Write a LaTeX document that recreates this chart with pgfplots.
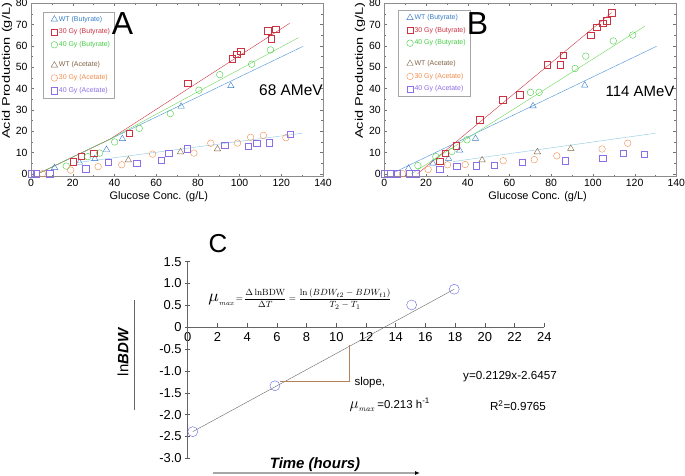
\documentclass[border=0pt]{standalone}
\usepackage[no-math]{fontspec}
\setmainfont{Liberation Sans}
\usepackage{pgfplots}
\pgfplotsset{compat=1.18}
\usetikzlibrary{arrows.meta}
\usepackage{amsmath}
\usepackage{graphicx}

\definecolor{wtb}{RGB}{55,125,200}
\definecolor{wtbl}{RGB}{75,145,215}
\definecolor{rd}{RGB}{205,50,65}
\definecolor{gr}{RGB}{70,205,70}
\definecolor{grl}{RGB}{110,215,90}
\definecolor{br}{RGB}{130,100,70}
\definecolor{org}{RGB}{240,140,75}
\definecolor{pur}{RGB}{140,110,230}
\definecolor{acl}{RGB}{140,200,225}
\definecolor{cblue}{RGB}{100,100,230}
\definecolor{slp}{RGB}{180,130,90}

\pgfplotsset{
  panel/.style={
    scale only axis, width=292bp, height=173.4bp,
    xmin=0, xmax=140, ymin=-1.4, ymax=80,
    xtick={0,20,...,140}, ytick={0,10,...,80},
    minor x tick num=1, minor y tick num=1,
    tick align=inside,
    axis line style={black!45},
    tick style={black!55},
    major tick length=3bp, minor tick length=2bp,
    ticklabel style={font=\fontsize{10.5}{12}\selectfont},
    xticklabel style={yshift=1bp},
    /pgf/number format/assume math mode=true,
    clip=false,
    legend cell align=left,
    legend style={anchor=north west, draw=black!35, fill=white,
      font=\fontsize{7}{8}\selectfont, row sep=3.8bp, inner sep=3bp,
      nodes={inner sep=1.2bp}},
    xlabel={Glucose Conc. (g/L)},
    ylabel={\scalebox{1.33}[1]{Acid Production (g/L)}},
    label style={font=\fontsize{11}{12}\selectfont},
  },
  wtbm/.style={only marks, mark=triangle, mark size=3.7bp, color=wtb},
  r30m/.style={only marks, mark=square, mark size=3.2bp, color=rd},
  g40m/.style={only marks, mark=o, mark size=3.3bp, color=gr},
  wtam/.style={only marks, mark=triangle, mark size=3.7bp, color=br},
  o30m/.style={only marks, mark=o, mark size=3.3bp, color=org},
  p40m/.style={only marks, mark=square, mark size=3.2bp, color=pur},
}

\begin{document}
\begin{tikzpicture}[x=1bp,y=1bp]
\useasboundingbox (0,0) rectangle (685,476);

% ---------------- Panel A ----------------
\begin{axis}[panel, at={(31bp,299.3bp)}, anchor=south west,
  legend style={at={(0.04,0.952)}},
  xlabel style={at={(axis description cs:0.438,-0.118)}, anchor=center},
  ylabel style={at={(axis description cs:-0.082,0.61)}, anchor=center}]
\addplot[wtbl, thin, forget plot] coordinates {(4.5,0.5) (130.5,59.8)};
\addplot[rd, thin, forget plot] coordinates {(4.5,0.5) (38,16.3) (124,70.6)};
\addplot[grl, thin, forget plot] coordinates {(4.5,0.5) (38,16.3) (128.3,63.9)};
\addplot[acl, thin, forget plot] coordinates {(22,5.2) (130,19)};
\addplot[wtbm] coordinates {(11.3,2.8) (23.2,5.3) (30.6,7.0) (36.2,11.3) (43.8,16.4) (72,31.6) (95.8,41.3)};
\addlegendentry{\textcolor{wtb}{WT (Butyrate)}}
\addplot[r30m] coordinates {(20.1,5.6) (24.2,8.3) (30.1,9.7) (47,19.1) (75.2,42.4) (96.6,54) (98.7,56.2) (100.5,57.6) (113.4,67.2) (115.1,63.4) (117.4,67.8)};
\addlegendentry{\textcolor{rd}{30 Gy (Butyrate)}}
\addplot[g40m] coordinates {(16.9,3.6) (27.2,8) (32.9,9.7) (40.1,14.9) (51.9,21.3) (66.8,28.2) (80.5,39.2) (90.5,46.5) (105.8,51.4) (114.8,58.1)};
\addlegendentry{\textcolor{gr}{40 Gy (Butyrate)}}
\addlegendimage{empty legend}
\addlegendentry{}
\addplot[wtam] coordinates {(46.7,6.4) (71.7,10.2) (89.4,11.6)};
\addlegendentry{\textcolor{br}{WT (Acetate)}}
\addplot[o30m] coordinates {(5.5,0) (19,1.7) (32.2,3.3) (43.5,4.2) (58.3,9.2) (78.1,9.7) (86.2,14.3) (99,14.4) (105.3,17.1) (111.4,18) (122.2,16.9)};
\addlegendentry{\textcolor{org}{30 Gy (Acetate)}}
\addplot[p40m] coordinates {(0,0) (2.4,0) (8.9,0) (26.2,2.3) (36.9,5.3) (50.6,4.9) (62.3,6.3) (66,9.6) (74.9,11.7) (92.9,13.5) (104.2,13) (108.2,14.3) (114.3,14.6) (124.3,18.5)};
\addlegendentry{\textcolor{pur}{40 Gy (Acetate)}}
\end{axis}

% ---------------- Panel B ----------------
\begin{axis}[panel, at={(384.3bp,299.3bp)}, anchor=south west,
  legend style={at={(0.048,0.961)}},
  xlabel style={at={(axis description cs:0.525,-0.118)}, anchor=center},
  ylabel style={at={(axis description cs:-0.083,0.61)}, anchor=center}]
\addplot[wtbl, thin, forget plot] coordinates {(4.5,0.5) (130.5,59.8)};
\addplot[rd, thin, forget plot] coordinates {(16,0) (109,75.6)};
\addplot[grl, thin, forget plot] coordinates {(13,0) (125,69.3)};
\addplot[acl, thin, forget plot] coordinates {(33,5.7) (130,19)};
\addplot[wtbm] coordinates {(11.6,2.5) (23.3,4.9) (30.8,7.1) (36.1,11) (43.7,16.5) (71.3,31.8) (96.1,41.5)};
\addlegendentry{\textcolor{wtb}{WT (Butyrate)}}
\addplot[r30m] coordinates {(26.5,6.0) (29.2,9.6) (34.5,13.2) (45.7,25.3) (56.8,34.7) (65,37.1) (78.2,51.1) (84.3,51.1) (85.9,55.7) (98.9,65.1) (101.9,68.9) (104.7,70.6) (106.6,71.8) (109,75.6)};
\addlegendentry{\textcolor{rd}{30 Gy (Butyrate)}}
\addplot[g40m] coordinates {(16.1,3.8) (24.7,8.0) (32.4,10.4) (39.6,15.9) (70.1,38.2) (74.2,38.2) (91.5,49.4) (96.6,55.2) (109.8,62.3) (119.1,65.1)};
\addlegendentry{\textcolor{gr}{40 Gy (Butyrate)}}
\addlegendimage{empty legend}
\addlegendentry{}
\addplot[wtam] coordinates {(46.9,6.4) (73.4,10.2) (89.4,11.8)};
\addlegendentry{\textcolor{br}{WT (Acetate)}}
\addplot[o30m] coordinates {(8.7,0) (21,2) (30.3,4.2) (38.8,4.3) (57,6.1) (71.9,6.6) (82.7,8.4) (104.4,11.6) (116.7,14.3)};
\addlegendentry{\textcolor{org}{30 Gy (Acetate)}}
\addplot[p40m] coordinates {(0,0) (3,0) (6,0) (12,0) (15,0) (26.5,2.2) (34.8,3.5) (44.1,3.8) (52.8,4.1) (66,5.4) (86.6,6.1) (104.8,7.2) (114.6,9.6) (124.7,9.1)};
\addlegendentry{\textcolor{pur}{40 Gy (Acetate)}}
\end{axis}

% ---------------- Panel C: x axis at y = 0 ----------------
\begin{axis}[at={(187.7bp,148.7bp)}, anchor=south west, scale only axis,
  width=356.6bp, height=20bp,
  xmin=0, xmax=24, ymin=0, ymax=1,
  axis lines*=left, y axis line style={draw=none}, ytick=\empty,
  xtick={0,2,...,24},
  xtick align=inside, major tick length=4.5bp,
  x axis line style={draw=black!60, line width=0.6bp},
  tick style={black!65, line width=0.5bp},
  ticklabel style={font=\fontsize{13}{14}\selectfont},
  xticklabel style={yshift=-2bp},
  /pgf/number format/assume math mode=true]
\end{axis}

% ---------------- Panel C: data and y axis ----------------
\begin{axis}[at={(187.7bp,17.7bp)}, anchor=south west, scale only axis,
  width=356.6bp, height=196.6bp,
  xmin=0, xmax=24, ymin=-3, ymax=1.5,
  axis lines*=left, x axis line style={draw=none}, xtick=\empty,
  ytick={-3,-2.5,-2,-1.5,-1,-0.5,0,0.5,1,1.5},
  yticklabels={-3.0,-2.5,-2.0,-1.5,-1.0,-0.5,0,0.5,1.0,1.5},
  ytick align=center,
  major tick length=5bp,
  y axis line style={draw=black!60, line width=0.6bp},
  tick style={black!65, line width=0.5bp},
  ticklabel style={font=\fontsize{13}{14}\selectfont},
  /pgf/number format/assume math mode=true,
  clip=false]
\addplot[black!60, thin] coordinates {(0.34,-2.39) (17.94,0.87)};
\addplot[slp, thin] coordinates {(6.2,-1.245) (10.88,-1.245) (10.88,-0.405)};
\addplot[only marks, mark=o, mark size=5bp, color=cblue] coordinates {(0.34,-2.39) (5.87,-1.34) (15.07,0.51) (17.94,0.87)};
\end{axis}

% ---------------- Texts ----------------
\node[font=\fontsize{32}{34}\selectfont] at (122.5,452.5) {A};
\node[font=\fontsize{32}{34}\selectfont] at (477.5,452.5) {B};
\node[font=\fontsize{15.5}{17}\selectfont] at (291,386) {68 AMeV};
\node[font=\fontsize{15}{17}\selectfont] at (640,385) {114 AMeV};
\node[font=\fontsize{26}{28}\selectfont] at (218,232) {C};
\node[font=\fontsize{9.3}{11}\selectfont] at (300,177) {$\scalebox{1.9}{$\mu$}_{\mathit{max}}\!=\!\dfrac{\Delta\,\mathrm{lnBDW}}{\Delta T}=\dfrac{\ln\left(BDW_{t2}-BDW_{t1}\right)}{T_2-T_1}$};
\node[anchor=west, font=\fontsize{11.5}{13}\selectfont] at (351,93) {slope,};
\node[anchor=west, font=\fontsize{11.5}{13}\selectfont] at (346,71) {$\scalebox{1.3}{$\mu$}_{\mathit{max}}$\,=0.213 h\textsuperscript{-1}};
\node[font=\fontsize{11.7}{13}\selectfont] at (510,99) {y=0.2129x-2.6457};
\node[font=\fontsize{11.7}{13}\selectfont] at (518,70) {R\textsuperscript{2}=0.9765};
\node[font=\fontsize{15}{17}\selectfont\bfseries\itshape] at (315,11) {Time (hours)};
\draw[black!35, line width=1.6bp, -{Latex[length=5bp,width=4bp,black]}] (213,3) -- (420,3);
\draw[black!60, line width=0.8bp] (134,176) -- (134,66);
\node[rotate=90, font=\fontsize{15}{17}\selectfont] at (123,124) {ln\textbf{\textit{BDW}}};
\end{tikzpicture}
\end{document}
